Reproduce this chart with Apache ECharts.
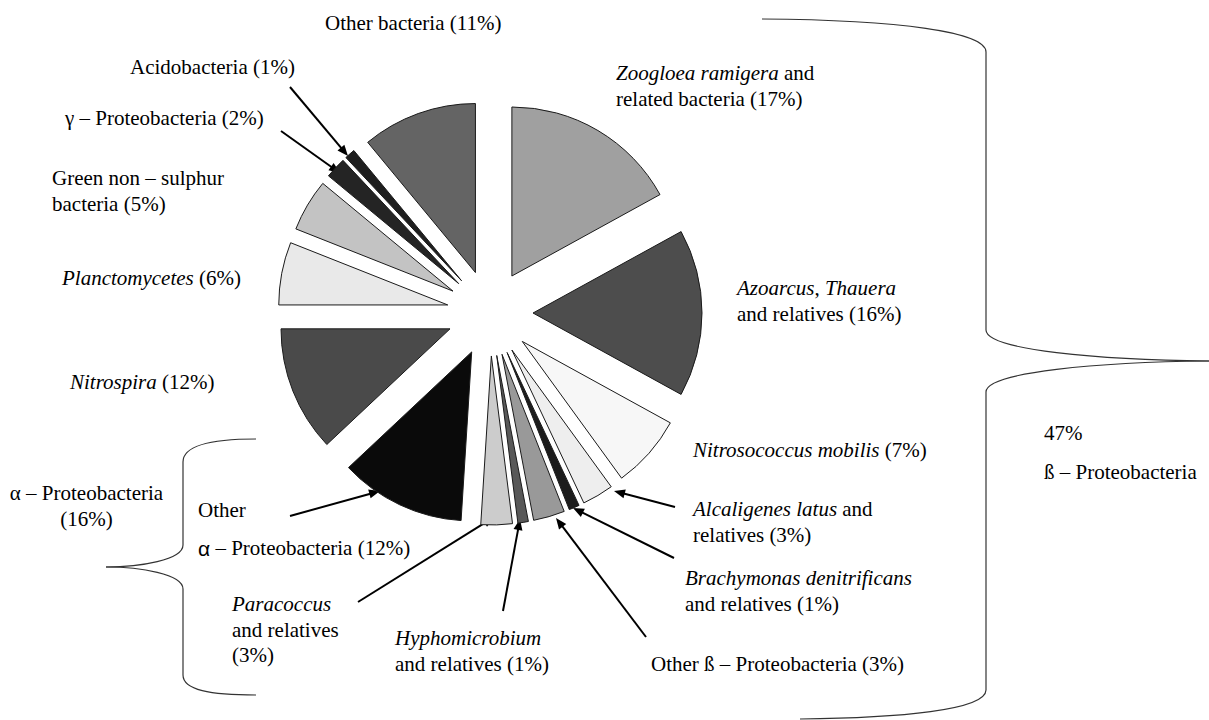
<!DOCTYPE html>
<html><head><meta charset="utf-8">
<script src="https://cdn.jsdelivr.net/npm/echarts@6/dist/echarts.min.js"></script>
<style>html,body{margin:0;padding:0;background:#fff}#c{width:1209px;height:720px}</style>
</head><body><div id="c"></div>
<script>
// ---- data ----
const categories = ['Zoogloea ramigera and related bacteria','Azoarcus, Thauera and relatives','Nitrosococcus mobilis','Alcaligenes latus and relatives','Brachymonas denitrificans and relatives','Other ß – Proteobacteria','Hyphomicrobium and relatives','Paracoccus and relatives','Other α – Proteobacteria','Nitrospira','Planctomycetes','Green non – sulphur bacteria','γ – Proteobacteria','Acidobacteria','Other bacteria'];
const percents = [17,16,7,3,1,3,1,3,12,12,6,5,2,1,11];
const labelLines = [
  ['{i|Zoogloea ramigera}{n| and}','{n|related bacteria (17%)}'],
  ['{i|Azoarcus}{n|, }{i|Thauera}','{n|and relatives (16%)}'],
  ['{i|Nitrosococcus mobilis}{n| (7%)}'],
  ['{i|Alcaligenes latus}{n| and}','{n|relatives (3%)}'],
  ['{i|Brachymonas denitrificans}','{n|and relatives (1%)}'],
  ['{n|Other ß – Proteobacteria (3%)}'],
  ['{i|Hyphomicrobium}','{n|and relatives (1%)}'],
  ['{i|Paracoccus}','{n|and relatives}','{n|(3%)}'],
  ['{n|Other}','{s|α}{n| – Proteobacteria (12%)}'],
  ['{i|Nitrospira}{n| (12%)}'],
  ['{i|Planctomycetes}{n| (6%)}'],
  ['{n|Green non – sulphur}','{n|bacteria (5%)}'],
  ['{n|γ – Proteobacteria (2%)}'],
  ['{n|Acidobacteria (1%)}'],
  ['{n|Other bacteria (11%)}']
];
const groupLabels = [['α – Proteobacteria','(16%)'],['47%'],['ß – Proteobacteria']];

// ---- styling / layout ----
const sliceColors = ['#a0a0a0','#4d4d4d','#f7f7f7','#eeeeee','#1c1c1c','#999999','#585858','#cccccc','#0a0a0a','#4a4a4a','#e9e9e9','#c3c3c3','#242424','#1e1e1e','#646464'];
// [x, first line centre y, line height]
const labelPos = [[616,73,25.5],[737,288,25.5],[693,450,25.5],[693,509,25.5],[685,578,25.5],[651,664,25.5],[395,638,25.5],[232,604,25.5],[198,510,38],[70,382,25.5],[62,278,25.5],[52,178,25.5],[65,118,25.5],[130,67,25.5],[325,23,25.5]];
const groupPos = [[86.5,493,'center'],[1044,433,'left'],[1044,472,'left']];
const arrows = [[290,87,348,156],[281,131,340,173],[290,516,380,491],[358,602,494,517],[503,611,520,519],[646,637,556,518],[674,558,573,508],[675,507,614,491]];
// brace segments: bezier [x1,y1,cx1,cy1,cx2,cy2,x2,y2] or line [x1,y1,x2,y2]
const braceCurves = [
  [762,19,900,20,986,32,986,52],[986,330,986,350,1100,360,1209,361],
  [1209,361,1100,362,986,372,986,392],[986,690,986,710,900,718,800,719],
  [256,439,210,439,183,446,183,462],[183,545,183,560,140,567,106,567],
  [106,567,140,567,183,574,183,589],[183,675,183,690,210,695,256,695]
];
const braceLines = [[986,52,986,330],[986,392,986,690],[183,462,183,545],[183,589,183,675]];

const FONT = 'Liberation Serif';
const FS = 21;
function rich(lh){
  return {
    n:{fontFamily:FONT,fontSize:FS,lineHeight:lh,fill:'#000'},
    i:{fontFamily:FONT,fontSize:FS,fontStyle:'italic',lineHeight:lh,fill:'#000'},
    s:{fontFamily:'Liberation Sans',fontSize:FS,lineHeight:lh,fill:'#000'}
  };
}

const graphics = [];
labelLines.forEach((lines,i)=>{
  const [x,y,lh] = labelPos[i];
  graphics.push({type:'text',x:x,y:y-lh/2,silent:true,style:{
    text:lines.join('\n'),rich:rich(lh),fontFamily:FONT,fontSize:FS,lineHeight:lh,fill:'#000',
    align:'left',verticalAlign:'top',textAlign:'left',textVerticalAlign:'top'}});
});
groupLabels.forEach((lines,i)=>{
  const [x,y,al] = groupPos[i];
  graphics.push({type:'text',x:x,y:y-12.75,silent:true,style:{
    text:lines.join('\n'),fontFamily:FONT,fontSize:FS,lineHeight:25.5,fill:'#000',
    align:al,verticalAlign:'top',textAlign:al,textVerticalAlign:'top'}});
});
arrows.forEach(([x1,y1,x2,y2])=>{
  const dx=x2-x1, dy=y2-y1, L=Math.hypot(dx,dy), ux=dx/L, uy=dy/L;
  const hl=11, hw=4.5;
  const bx=x2-ux*hl, by=y2-uy*hl;
  graphics.push({type:'line',silent:true,shape:{x1:x1,y1:y1,x2:bx+ux,y2:by+uy},style:{stroke:'#000',lineWidth:2}});
  graphics.push({type:'polygon',silent:true,shape:{points:[[x2,y2],[bx-uy*hw,by+ux*hw],[bx+uy*hw,by-ux*hw]]},style:{fill:'#000'}});
});
braceCurves.forEach(([x1,y1,c1x,c1y,c2x,c2y,x2,y2])=>{
  graphics.push({type:'bezierCurve',silent:true,shape:{x1:x1,y1:y1,cpx1:c1x,cpy1:c1y,cpx2:c2x,cpy2:c2y,x2:x2,y2:y2},style:{fill:null,stroke:'#333',lineWidth:1.2}});
});
braceLines.forEach(([x1,y1,x2,y2])=>{
  graphics.push({type:'line',silent:true,shape:{x1:x1,y1:y1,x2:x2,y2:y2},style:{stroke:'#333',lineWidth:1.2}});
});

const chart = echarts.init(document.getElementById('c'),null,{renderer:'svg'});
chart.setOption({
  animation:false,
  backgroundColor:'#fff',
  series:[{
    type:'pie',center:[490,313],radius:169,startAngle:90,clockwise:true,
    selectedMode:'multiple',selectedOffset:43,avoidLabelOverlap:false,
    label:{show:false},labelLine:{show:false},emphasis:{disabled:true},
    itemStyle:{borderColor:'#1a1a1a',borderWidth:1},
    data:categories.map((n,i)=>({name:n,value:percents[i],selected:true,
      itemStyle:{color:sliceColors[i]},
      select:{itemStyle:{color:sliceColors[i],borderColor:'#1a1a1a',borderWidth:1}}}))
  }],
  graphic:graphics
});
</script></body></html>
